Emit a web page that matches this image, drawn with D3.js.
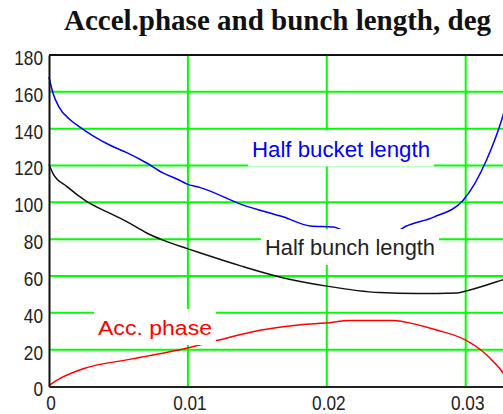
<!DOCTYPE html>
<html>
<head>
<meta charset="utf-8">
<script src="https://cdn.jsdelivr.net/npm/d3@7"></script>
<style>
  body { margin: 0; background: #fff; }
  svg { display: block; }
  .tick text { font-family: "Liberation Sans", Arial, sans-serif; font-size: 21px; fill: #222; }
</style>
</head>
<body>
<div id="chart"></div>
<script>
// values
var xTicks = [0, 0.01, 0.02, 0.03];
var yTicks = [0, 20, 40, 60, 80, 100, 120, 140, 160, 180];

var bucketX = [0, 0.0003, 0.0007, 0.0015, 0.0022, 0.0032, 0.0044, 0.0056, 0.0070, 0.0082, 0.0094, 0.0099, 0.0109, 0.0140, 0.0169, 0.0188, 0.0205, 0.0214, 0.0240, 0.0250, 0.0257, 0.0277, 0.0298, 0.0315, 0.0326, 0.0335];
var bucketY = [168, 159, 152, 145, 141, 136, 131, 127, 121.5, 116, 112, 110, 108, 98.5, 92, 87.2, 86.6, 84.2, 84, 84.3, 87, 92, 101, 123, 145, 170];

var bunchX = [0, 0.0003, 0.0013, 0.0027, 0.0044, 0.0056, 0.0070, 0.0082, 0.0099, 0.0109, 0.0138, 0.0166, 0.0200, 0.0238, 0.0265, 0.0294, 0.0301, 0.0327, 0.0335];
var bunchY = [120.5, 115.5, 108.5, 100.5, 94, 89.5, 83.5, 79.5, 75, 72.5, 65.5, 59.5, 54.5, 51, 50.5, 50.8, 52, 58, 60];

var accX = [0, 0.0008, 0.0024, 0.0060, 0.0099, 0.0120, 0.0152, 0.0181, 0.0199, 0.0217, 0.0248, 0.0255, 0.0279, 0.0300, 0.0311, 0.0320, 0.0327, 0.0332];
var accY = [0.5, 4.4, 9.5, 15, 20.8, 24.8, 30.5, 33.5, 34.5, 35.8, 35.8, 35.2, 30.7, 25.2, 19.8, 13.5, 7.2, 0];

var w = 503, h = 414;
var plotLeft = 49, plotTop = 55, plotBottom = 386.5;

var svg = d3.select('#chart').append('svg')
            .attr('width', w)
            .attr('height', h);

svg.append('rect').attr('width', w).attr('height', h).attr('fill', '#fff');

// 0.01 is about 139 px wide, plot runs past the right edge
var x = d3.scaleLinear().domain([0, 0.04]).range([plotLeft, plotLeft + 0.04 * 13890]);
var y = d3.scaleLinear().domain([0, 180]).range([plotBottom, plotTop]);

// title
svg.append('text')
   .attr('x', 277.5)
   .attr('y', 29.5)
   .attr('text-anchor', 'middle')
   .style('font-family', '"Liberation Serif", "Times New Roman", serif')
   .style('font-weight', 'bold')
   .style('font-size', '29px')
   .style('fill', '#111')
   .text('Accel.phase and bunch length, deg');

// grid
var grid = svg.append('g');
grid.selectAll('line.gx')
    .data(xTicks.slice(1).concat([0.04]))
    .enter().append('line')
    .attr('x1', function(d) { return x(d); })
    .attr('x2', function(d) { return x(d); })
    .attr('y1', y(180)).attr('y2', y(0))
    .attr('stroke', '#00ff00').attr('stroke-width', 2);
grid.selectAll('line.gy')
    .data(yTicks.slice(1, -1))
    .enter().append('line')
    .attr('x1', x(0)).attr('x2', x(0.04))
    .attr('y1', function(d) { return y(d); })
    .attr('y2', function(d) { return y(d); })
    .attr('stroke', '#00ff00').attr('stroke-width', 2);

// curves
var line = d3.line()
             .curve(d3.curveMonotoneX)
             .x(function(d) { return x(d[0]); })
             .y(function(d) { return y(d[1]); });

function drawSeries(xs, ys, color) {
  svg.append('path')
     .datum(d3.zip(xs, ys))
     .attr('d', line)
     .attr('fill', 'none')
     .attr('stroke', color)
     .attr('stroke-width', 1.5);
}
drawSeries(bucketX, bucketY, '#0000ff');
drawSeries(bunchX, bunchY, '#111');
drawSeries(accX, accY, '#ff0000');

// labels on white boxes
function label(txt, px, py, size, len, color) {
  var g = svg.append('g');
  g.append('rect')
   .attr('x', px - 4)
   .attr('y', py - 26)
   .attr('width', len + 8)
   .attr('height', 36)
   .attr('fill', '#fff');
  g.append('text')
   .attr('x', px)
   .attr('y', py)
   .attr('textLength', len)
   .attr('lengthAdjust', 'spacingAndGlyphs')
   .style('font-family', '"Liberation Sans", Arial, sans-serif')
   .style('font-size', size + 'px')
   .style('fill', color)
   .text(txt);
}
label('Half bucket length', 252, 156.5, 22, 178, '#0000ff');
label('Half bunch length', 265, 255, 22, 170, '#222');
label('Acc. phase', 98, 335, 20, 114, '#ff0000');

// axes
var yAxis = d3.axisLeft(y).tickValues(yTicks).tickSize(0).tickPadding(0);
var gy = svg.append('g').attr('transform', 'translate(' + plotLeft + ',0)').call(yAxis);
gy.selectAll('.tick text')
  .attr('x', 0)
  .attr('dy', '0.45em')
  .attr('transform', 'translate(-6,0) scale(0.82,1)');
gy.select('.domain').attr('stroke', '#111').attr('stroke-width', 2);

var xAxis = d3.axisBottom(x).tickValues(xTicks).tickSize(0).tickPadding(9)
              .tickFormat(function(d) { return d === 0 ? '0' : d3.format('.2f')(d); });
var gx = svg.append('g').attr('transform', 'translate(0,' + plotBottom + ')').call(xAxis);
gx.selectAll('.tick text').attr('transform', 'translate(1.5,0) scale(0.82,1)');
gx.select('.domain').attr('stroke', '#222').attr('stroke-width', 2);

svg.append('line')
   .attr('x1', plotLeft).attr('x2', x(0.04))
   .attr('y1', plotTop).attr('y2', plotTop)
   .attr('stroke', '#111').attr('stroke-width', 2);
</script>
</body>
</html>
